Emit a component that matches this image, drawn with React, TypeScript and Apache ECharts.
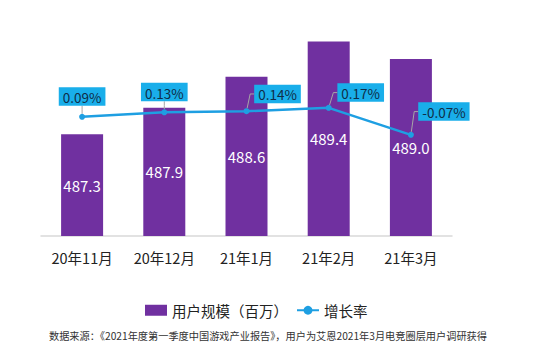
import React, { useEffect, useRef } from "react";
import * as echarts from "echarts";

const categories = ["20年11月", "20年12月", "21年1月", "21年2月", "21年3月"];
const userScale = [487.3, 487.9, 488.6, 489.4, 489.0];
const growthRate = [0.09, 0.13, 0.14, 0.17, -0.07];
const labelShift: Array<[number, number]> = [
  [0, 0],
  [0, 0],
  [31, 3],
  [32, 5],
  [33, -3],
];
const barName = "用户规模（百万）";
const lineName = "增长率";
const footnote = "数据来源：《2021年度第一季度中国游戏产业报告》，用户为艾恩2021年3月电竞圈层用户调研获得";

const FONT = "'Noto Sans CJK SC', 'Noto Sans', sans-serif";

export default function App() {
  const ref = useRef<HTMLDivElement>(null);
  useEffect(() => {
    if (!ref.current) return;
    const chart = echarts.init(ref.current, undefined, { renderer: "svg" });
    chart.setOption({
      animation: false,
      backgroundColor: "#ffffff",
      textStyle: { fontFamily: FONT },
      title: {
        text: footnote,
        left: 268,
        textAlign: "center",
        top: 330,
        padding: 0,
        textStyle: { fontSize: 10.2, fontWeight: "normal", color: "#333", fontFamily: FONT },
      },
      legend: {
        top: 298,
        left: 140,
        itemWidth: 22,
        itemHeight: 11,
        itemGap: 8,
        textStyle: { fontSize: 14.5, color: "#222", fontFamily: FONT },
        data: [
          { name: barName, icon: "rect" },
          { name: lineName },
        ],
      },
      grid: { left: 41, right: 84, top: 37, bottom: 117 },
      xAxis: {
        type: "category",
        data: categories,
        axisLine: { onZero: false, lineStyle: { color: "#d9d9d9", width: 1.5 } },
        axisTick: { show: false },
        axisLabel: { fontSize: 14.5, color: "#222", margin: 14, fontFamily: FONT },
      },
      yAxis: [
        { type: "value", min: 485, max: 489.5, show: false },
        { type: "value", min: -0.97, max: 0.8, show: false },
      ],
      series: [
        {
          name: barName,
          type: "bar",
          data: userScale,
          barWidth: 42,
          itemStyle: { color: "#7030a0" },
          label: {
            show: true,
            position: "inside",
            color: "#ffffff",
            fontSize: 15,
            fontFamily: FONT,
            formatter: (p: any) => p.value.toFixed(1),
          },
        },
        {
          name: lineName,
          type: "line",
          yAxisIndex: 1,
          data: growthRate,
          symbol: "circle",
          symbolSize: 6,
          lineStyle: { color: "#1e9fe2", width: 2.5 },
          itemStyle: { color: "#1e9fe2" },
          label: {
            show: true,
            position: "top",
            distance: 8,
            formatter: (p: any) => p.value.toFixed(2) + "%",
            backgroundColor: "#19aeea",
            color: "#0f2d48",
            fontSize: 13.5,
            fontFamily: FONT,
            padding: [3, 4, 2, 4],
          },
          labelLine: { show: true, lineStyle: { color: "#a6a6a6", width: 1 }, length2: 4 },
          labelLayout: (params: any) => {
            const s = labelShift[params.dataIndex] || [0, 0];
            return { dx: s[0], dy: s[1] };
          },
        },
      ],
    });
    return () => chart.dispose();
  }, []);
  return (
    <div
      ref={ref}
      style={{ position: "fixed", left: 0, top: 0, width: 536, height: 353 }}
    />
  );
}
